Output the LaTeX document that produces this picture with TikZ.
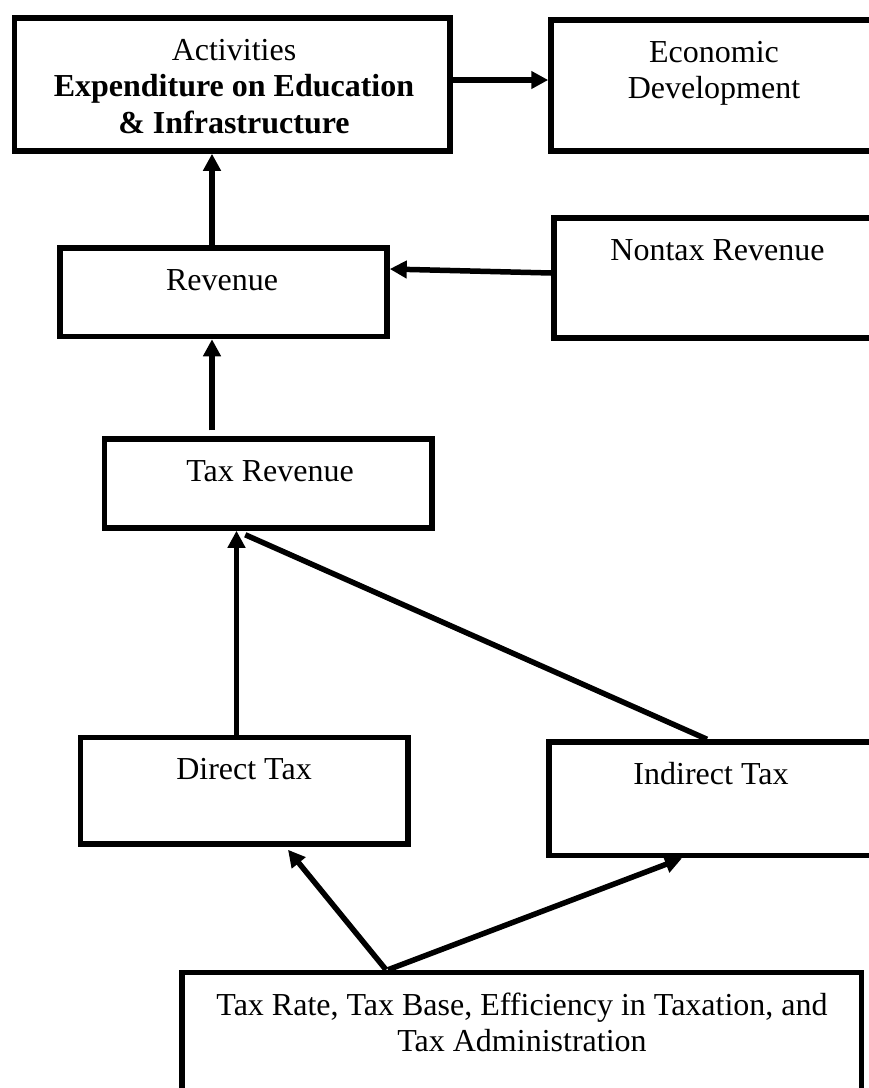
\documentclass[tikz,border=0pt]{standalone}
\usepackage{fontspec}
\setmainfont{Liberation Serif}
\usetikzlibrary{arrows.meta,calc}
\begin{document}
\begin{tikzpicture}[x=1pt,y=-1pt,
  box/.style={draw, rectangle, line width=5.5pt, inner sep=0pt},
  lbl/.style={anchor=base, inner sep=0pt, font=\fontsize{32}{36.8}\selectfont},
  arr/.style={line width=5.5pt, -{Triangle[length=17pt,width=17pt]}},
  link/.style={line width=5.5pt}]
\useasboundingbox (0,0) rectangle (869,1088);
\clip (0,0) rectangle (869,1088);
% boxes
\node[box, minimum width=435.5pt, minimum height=133pt] (act) at (232.25,84.5) {};
\node[box, minimum width=327pt, minimum height=131pt] (eco) at (714.5,85.5) {};
\node[box, minimum width=327pt, minimum height=88.5pt] (rev) at (223.5,292.25) {};
\node[box, minimum width=326pt, minimum height=120pt] (non) at (717,278) {};
\node[box, minimum width=327.5pt, minimum height=89pt] (trev) at (268.25,483.5) {};
\node[box, minimum width=327.5pt, minimum height=106.5pt] (dir) at (244.25,790.75) {};
\node[box, minimum width=327pt, minimum height=113.5pt] (ind) at (712.5,798.75) {};
\node[box, minimum width=679.5pt, minimum height=157.5pt] (bot) at (521.75,1051.25) {};
% texts
\node[lbl] (act-t) at (234,60) {\begin{tabular}[t]{@{}c@{}}Activities\\\textbf{Expenditure on Education}\\\textbf{\& Infrastructure}\end{tabular}};
\node[lbl] (eco-t) at (714,62) {\begin{tabular}[t]{@{}c@{}}Economic\\Development\end{tabular}};
\node[lbl] (rev-t) at (222,290) {Revenue};
\node[lbl] (non-t) at (717.5,260) {Nontax Revenue};
\node[lbl] (trev-t) at (270,481.5) {Tax Revenue};
\node[lbl] (dir-t) at (244,779.5) {Direct Tax};
\node[lbl] (ind-t) at (711,784) {Indirect Tax};
\node[lbl] (bot-t) at (522,1015) {\begin{tabular}[t]{@{}c@{}}Tax Rate, Tax Base, Efficiency in Taxation, and\\Tax Administration\end{tabular}};
% connectors
\draw[arr] ([yshift=4.5pt]act.east) -- ([yshift=4.5pt]act.east -| eco.west);
\draw[arr] ([yshift=5pt]non.west) -- ([yshift=23.25pt]rev.east);
\draw[arr] ([xshift=-11.5pt]rev.north) -- ([xshift=-11.5pt]rev.north |- act.south);
\draw[arr] ([xshift=-56.25pt,yshift=6pt]trev.north) -- ([xshift=-56.25pt]trev.north |- rev.south);
\draw[arr] ([xshift=-7.75pt]dir.north) -- ([xshift=-7.75pt]dir.north |- trev.south);
\draw[link] ([xshift=-5.5pt]ind.north) -- ([xshift=-23pt,yshift=-4pt]trev.south);
\draw[arr] ([xshift=-135.75pt]bot.north) -- ([xshift=43.75pt,yshift=-3pt]dir.south);
\draw[arr] ([xshift=-133.75pt]bot.north) -- ([xshift=-30.5pt]ind.south);
\end{tikzpicture}
\end{document}
